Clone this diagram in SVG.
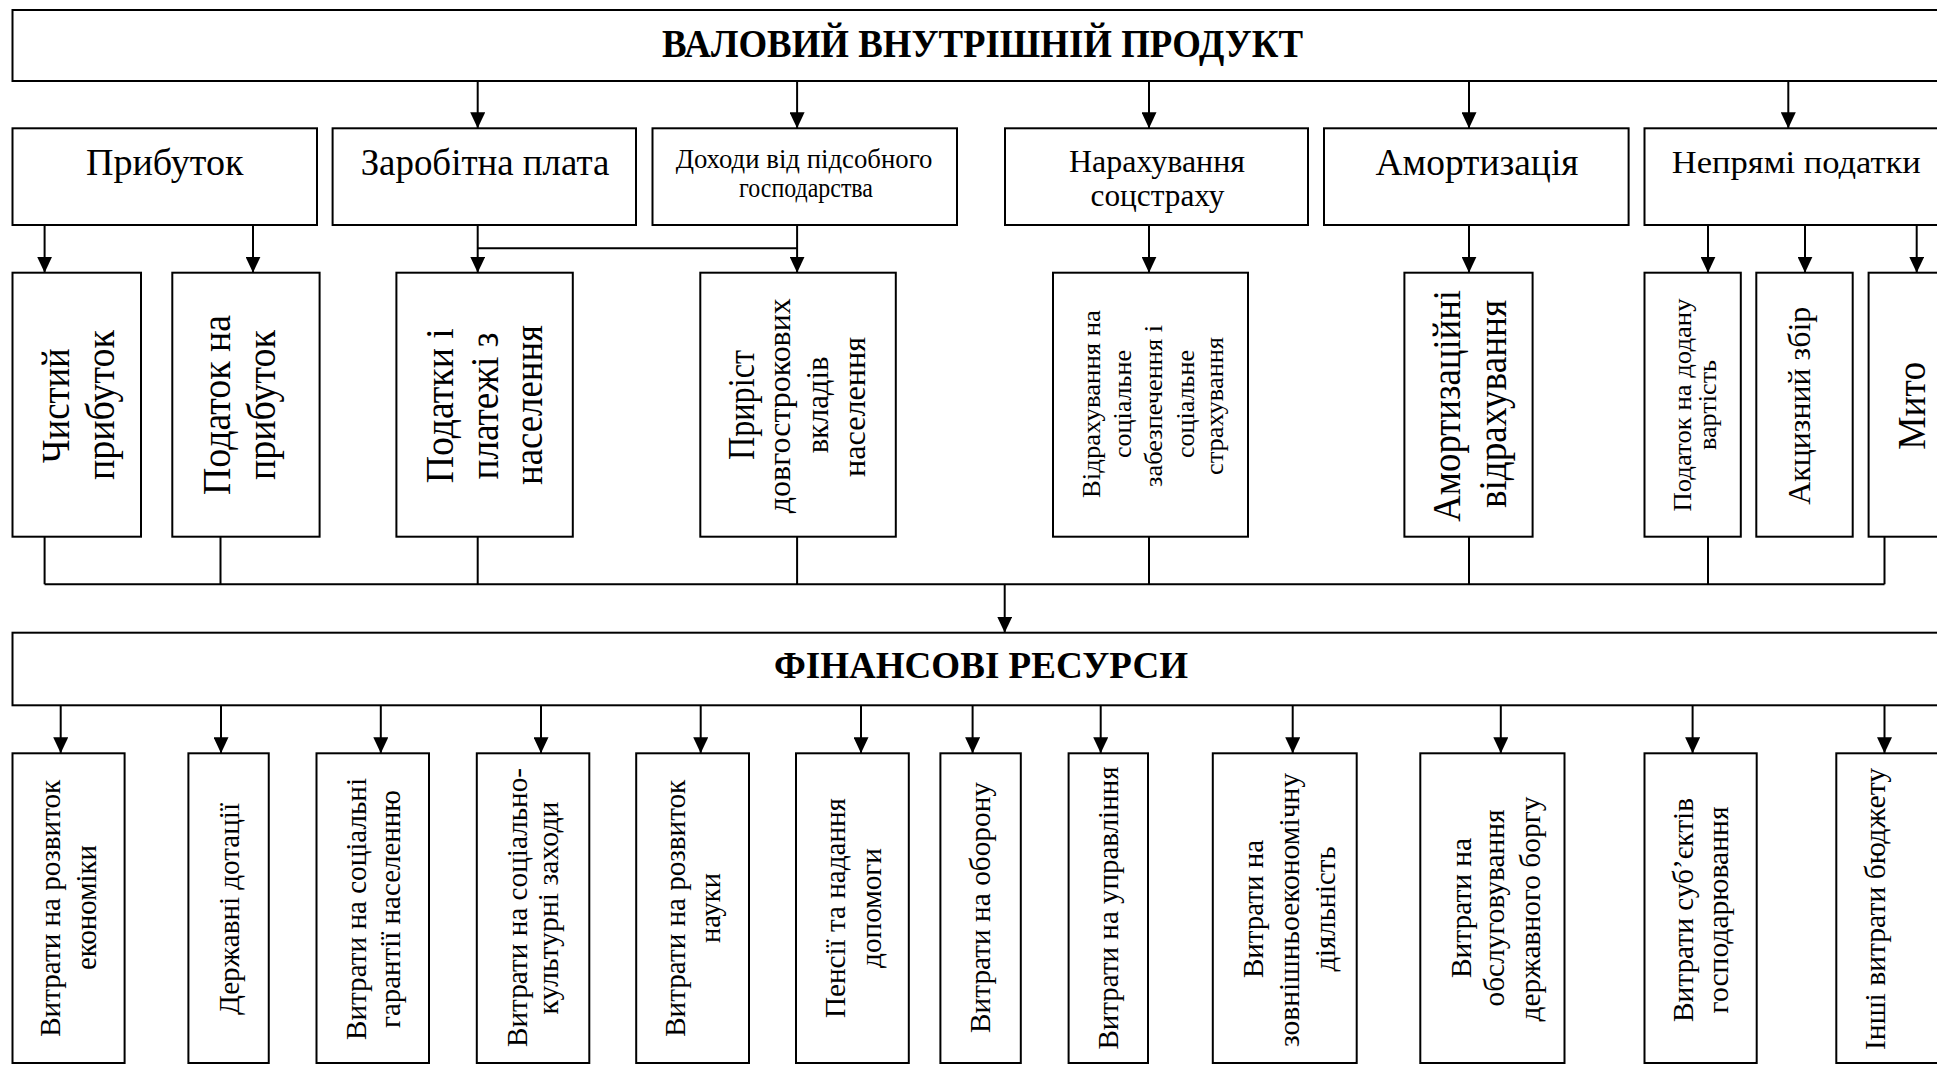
<svg xmlns="http://www.w3.org/2000/svg" width="1937" height="1065" viewBox="0 0 1937 1065" font-family="'Liberation Serif', 'DejaVu Serif', serif">
<style>
.box{fill:#fff;stroke:#000;stroke-width:2}
.ln{stroke:#000;stroke-width:2;fill:none}
.ar{stroke:#000;stroke-width:2;fill:none;marker-end:url(#ah)}
text{font-family:'Liberation Serif','DejaVu Serif',serif;fill:#000;text-anchor:middle}
.h{font-weight:bold}
.f39{font-size:39px}
.f37{font-size:37px}
.f32{font-size:32px}
.f30{font-size:30px}
.f27{font-size:27px}
.f26{font-size:26px}
</style>
<defs>
<marker id="ah" viewBox="0 0 16 15" refX="16" refY="7.5" markerWidth="16" markerHeight="15" orient="auto" markerUnits="userSpaceOnUse">
<path d="M0,0 L16,7.5 L0,15 z" fill="#000"/>
</marker>
</defs>
<rect width="1937" height="1065" fill="#fff"/>

<g id="connectors">
<line class="ar" x1="477.7" y1="81" x2="477.7" y2="128.3"/>
<line class="ar" x1="797.1" y1="81" x2="797.1" y2="128.3"/>
<line class="ar" x1="1149" y1="81" x2="1149" y2="128.3"/>
<line class="ar" x1="1469" y1="81" x2="1469" y2="128.3"/>
<line class="ar" x1="1788.3" y1="81" x2="1788.3" y2="128.3"/>

<line class="ar" x1="44.6" y1="225" x2="44.6" y2="272.7"/>
<line class="ar" x1="253" y1="225" x2="253" y2="272.7"/>
<line class="ar" x1="477.7" y1="225" x2="477.7" y2="272.7"/>
<line class="ln" x1="477.7" y1="248.3" x2="797.1" y2="248.3"/>
<line class="ar" x1="797.1" y1="225" x2="797.1" y2="272.7"/>
<line class="ar" x1="1149" y1="225" x2="1149" y2="272.7"/>
<line class="ar" x1="1469" y1="225" x2="1469" y2="272.7"/>
<line class="ar" x1="1708" y1="225" x2="1708" y2="272.7"/>
<line class="ar" x1="1805" y1="225" x2="1805" y2="272.7"/>
<line class="ar" x1="1916.7" y1="225" x2="1916.7" y2="272.7"/>

<path class="ln" d="M44.6,536.7 V584.3 M220.5,536.7 V584.3 M477.7,536.7 V584.3 M797.1,536.7 V584.3 M1149,536.7 V584.3 M1469,536.7 V584.3 M1708,536.7 V584.3 M1884.5,536.7 V584.3 M44.6,584.3 H1884.5"/>
<line class="ar" x1="1004.7" y1="584.3" x2="1004.7" y2="632.7"/>

<line class="ar" x1="60.7" y1="705.3" x2="60.7" y2="753.3"/>
<line class="ar" x1="221" y1="705.3" x2="221" y2="753.3"/>
<line class="ar" x1="380.8" y1="705.3" x2="380.8" y2="753.3"/>
<line class="ar" x1="541" y1="705.3" x2="541" y2="753.3"/>
<line class="ar" x1="700.7" y1="705.3" x2="700.7" y2="753.3"/>
<line class="ar" x1="861" y1="705.3" x2="861" y2="753.3"/>
<line class="ar" x1="972.6" y1="705.3" x2="972.6" y2="753.3"/>
<line class="ar" x1="1100.7" y1="705.3" x2="1100.7" y2="753.3"/>
<line class="ar" x1="1292.7" y1="705.3" x2="1292.7" y2="753.3"/>
<line class="ar" x1="1500.8" y1="705.3" x2="1500.8" y2="753.3"/>
<line class="ar" x1="1692.6" y1="705.3" x2="1692.6" y2="753.3"/>
<line class="ar" x1="1884.5" y1="705.3" x2="1884.5" y2="753.3"/>
</g>

<g id="gdp">
<rect class="box" x="12.5" y="10" width="1940" height="71"/>
<text class="h" x="982.6" y="57" font-size="39" textLength="641" lengthAdjust="spacingAndGlyphs">ВАЛОВИЙ ВНУТРІШНІЙ ПРОДУКТ</text>
</g>

<g id="profit">
<rect class="box" x="12.5" y="128.3" width="304.5" height="96.7"/>
<text class="f37" x="164.7" y="175" textLength="157.6" lengthAdjust="spacingAndGlyphs">Прибуток</text>
</g>
<g id="wages">
<rect class="box" x="332.6" y="128.3" width="303.4" height="96.7"/>
<text class="f37" x="485" y="175" textLength="248.7" lengthAdjust="spacingAndGlyphs">Заробітна плата</text>
</g>
<g id="household">
<rect class="box" x="652.5" y="128.3" width="304.5" height="96.7"/>
<text class="f27" x="804" y="168.3" textLength="256.7" lengthAdjust="spacingAndGlyphs">Доходи від підсобного</text>
<text class="f27" x="806" y="196.7" textLength="134" lengthAdjust="spacingAndGlyphs">господарства</text>
</g>
<g id="social-accrual">
<rect class="box" x="1005" y="128.3" width="303" height="96.7"/>
<text class="f32" x="1157" y="171.7" textLength="176" lengthAdjust="spacingAndGlyphs">Нарахування</text>
<text class="f32" x="1157.5" y="206" textLength="134" lengthAdjust="spacingAndGlyphs">соцстраху</text>
</g>
<g id="amortization">
<rect class="box" x="1324" y="128.3" width="304.6" height="96.7"/>
<text class="f37" x="1477" y="175" textLength="203" lengthAdjust="spacingAndGlyphs">Амортизація</text>
</g>
<g id="indirect-taxes">
<rect class="box" x="1644.5" y="128.3" width="304.5" height="96.7"/>
<text class="f32" x="1796.3" y="172.7" textLength="249" lengthAdjust="spacingAndGlyphs">Непрямі податки</text>
</g>

<g id="net-profit">
<rect class="box" x="12.5" y="272.7" width="128.5" height="264"/>
<text class="f39" transform="translate(69.2,405.8) rotate(-90)" textLength="115" lengthAdjust="spacingAndGlyphs">Чистий</text>
<text class="f39" transform="translate(113.8,405) rotate(-90)" textLength="150" lengthAdjust="spacingAndGlyphs">прибуток</text>
</g>
<g id="profit-tax">
<rect class="box" x="172.3" y="272.7" width="147.3" height="264"/>
<text class="f39" transform="translate(230,405) rotate(-90)" textLength="180" lengthAdjust="spacingAndGlyphs">Податок на</text>
<text class="f39" transform="translate(274.5,405) rotate(-90)" textLength="150" lengthAdjust="spacingAndGlyphs">прибуток</text>
</g>
<g id="population-taxes">
<rect class="box" x="396.4" y="272.7" width="176.4" height="264"/>
<text class="f39" transform="translate(453,405.7) rotate(-90)" textLength="155" lengthAdjust="spacingAndGlyphs">Податки і</text>
<text class="f39" transform="translate(497.8,406) rotate(-90)" textLength="147" lengthAdjust="spacingAndGlyphs">платежі з</text>
<text class="f39" transform="translate(542.4,405) rotate(-90)" textLength="160" lengthAdjust="spacingAndGlyphs">населення</text>
</g>
<g id="deposits">
<rect class="box" x="700.3" y="272.7" width="195.5" height="264"/>
<text class="f37" transform="translate(753.8,405) rotate(-90)" textLength="110" lengthAdjust="spacingAndGlyphs">Приріст</text>
<text class="f32" transform="translate(789.6,405.7) rotate(-90)" textLength="215" lengthAdjust="spacingAndGlyphs">довгострокових</text>
<text class="f32" transform="translate(827.5,405) rotate(-90)" textLength="96.7" lengthAdjust="spacingAndGlyphs">вкладів</text>
<text class="f32" transform="translate(865.4,407) rotate(-90)" textLength="140" lengthAdjust="spacingAndGlyphs">населення</text>
</g>
<g id="social-deductions">
<rect class="box" x="1053" y="272.7" width="195" height="264"/>
<text class="f26" transform="translate(1099.8,404) rotate(-90)" textLength="188" lengthAdjust="spacingAndGlyphs">Відрахування на</text>
<text class="f26" transform="translate(1131,404) rotate(-90)" textLength="108" lengthAdjust="spacingAndGlyphs">соціальне</text>
<text class="f26" transform="translate(1162.3,406) rotate(-90)" textLength="162" lengthAdjust="spacingAndGlyphs">забезпечення і</text>
<text class="f26" transform="translate(1193.6,404) rotate(-90)" textLength="108" lengthAdjust="spacingAndGlyphs">соціальне</text>
<text class="f26" transform="translate(1222.6,406) rotate(-90)" textLength="138" lengthAdjust="spacingAndGlyphs">страхування</text>
</g>
<g id="depreciation">
<rect class="box" x="1404.4" y="272.7" width="128.2" height="264"/>
<text class="f39" transform="translate(1460,405.8) rotate(-90)" textLength="231.7" lengthAdjust="spacingAndGlyphs">Амортизаційні</text>
<text class="f39" transform="translate(1506.2,404) rotate(-90)" textLength="208" lengthAdjust="spacingAndGlyphs">відрахування</text>
</g>
<g id="vat">
<rect class="box" x="1644.5" y="272.7" width="96.3" height="264"/>
<text class="f26" transform="translate(1690.6,405) rotate(-90)" textLength="213" lengthAdjust="spacingAndGlyphs">Податок на додану</text>
<text class="f26" transform="translate(1715.7,405) rotate(-90)" textLength="90" lengthAdjust="spacingAndGlyphs">вартість</text>
</g>
<g id="excise">
<rect class="box" x="1756.3" y="272.7" width="96.4" height="264"/>
<text class="f32" transform="translate(1810,405.8) rotate(-90)" textLength="198" lengthAdjust="spacingAndGlyphs">Акцизний збір</text>
</g>
<g id="duty">
<rect class="box" x="1868.6" y="272.7" width="96.4" height="264"/>
<text class="f39" transform="translate(1925,405.8) rotate(-90)" textLength="88" lengthAdjust="spacingAndGlyphs">Мито</text>
</g>

<g id="financial-resources">
<rect class="box" x="12.5" y="632.7" width="1940" height="72.6"/>
<text class="h" x="981" y="678.3" font-size="37" textLength="414" lengthAdjust="spacingAndGlyphs">ФІНАНСОВІ РЕСУРСИ</text>
</g>

<g id="economy">
<rect class="box" x="12.5" y="753.3" width="112.1" height="309.7"/>
<text class="f30" transform="translate(60.3,908.3) rotate(-90)" textLength="257" lengthAdjust="spacingAndGlyphs">Витрати на розвиток</text>
<text class="f30" transform="translate(96,907.5) rotate(-90)" textLength="125" lengthAdjust="spacingAndGlyphs">економіки</text>
</g>
<g id="subsidies">
<rect class="box" x="188.4" y="753.3" width="80.35" height="309.7"/>
<text class="f30" transform="translate(238.8,909) rotate(-90)" textLength="212" lengthAdjust="spacingAndGlyphs">Державні  дотації</text>
</g>
<g id="social-guarantees">
<rect class="box" x="316.5" y="753.3" width="112.5" height="309.7"/>
<text class="f30" transform="translate(366,909) rotate(-90)" textLength="262" lengthAdjust="spacingAndGlyphs">Витрати на соціальні</text>
<text class="f30" transform="translate(399.5,909) rotate(-90)" textLength="238" lengthAdjust="spacingAndGlyphs">гарантії населенню</text>
</g>
<g id="sociocultural">
<rect class="box" x="476.8" y="753.3" width="112.5" height="309.7"/>
<text class="f30" transform="translate(526.8,907.5) rotate(-90)" textLength="279" lengthAdjust="spacingAndGlyphs">Витрати на соціально-</text>
<text class="f30" transform="translate(558,908) rotate(-90)" textLength="213" lengthAdjust="spacingAndGlyphs">культурні заходи</text>
</g>
<g id="science">
<rect class="box" x="636.2" y="753.3" width="112.8" height="309.7"/>
<text class="f30" transform="translate(684.6,908.3) rotate(-90)" textLength="257" lengthAdjust="spacingAndGlyphs">Витрати на розвиток</text>
<text class="f30" transform="translate(720.4,908) rotate(-90)" textLength="70" lengthAdjust="spacingAndGlyphs">науки</text>
</g>
<g id="pensions">
<rect class="box" x="796" y="753.3" width="112.8" height="309.7"/>
<text class="f30" transform="translate(845.4,908) rotate(-90)" textLength="220" lengthAdjust="spacingAndGlyphs">Пенсії та надання</text>
<text class="f30" transform="translate(881,908) rotate(-90)" textLength="120" lengthAdjust="spacingAndGlyphs">допомоги</text>
</g>
<g id="defense">
<rect class="box" x="940.4" y="753.3" width="80.4" height="309.7"/>
<text class="f30" transform="translate(990.4,907.5) rotate(-90)" textLength="251" lengthAdjust="spacingAndGlyphs">Витрати на оборону</text>
</g>
<g id="administration">
<rect class="box" x="1068.6" y="753.3" width="79.4" height="309.7"/>
<text class="f30" transform="translate(1117.7,908) rotate(-90)" textLength="283" lengthAdjust="spacingAndGlyphs">Витрати на управління</text>
</g>
<g id="foreign-economic">
<rect class="box" x="1212.8" y="753.3" width="143.9" height="309.7"/>
<text class="f30" transform="translate(1262.8,909) rotate(-90)" textLength="138" lengthAdjust="spacingAndGlyphs">Витрати на</text>
<text class="f30" transform="translate(1298.5,910) rotate(-90)" textLength="274" lengthAdjust="spacingAndGlyphs">зовнішньоекономічну</text>
<text class="f30" transform="translate(1335,909) rotate(-90)" textLength="125" lengthAdjust="spacingAndGlyphs">діяльність</text>
</g>
<g id="debt-service">
<rect class="box" x="1420.3" y="753.3" width="144.2" height="309.7"/>
<text class="f30" transform="translate(1470.6,908) rotate(-90)" textLength="140" lengthAdjust="spacingAndGlyphs">Витрати на</text>
<text class="f30" transform="translate(1504,908) rotate(-90)" textLength="197" lengthAdjust="spacingAndGlyphs">обслуговування</text>
<text class="f30" transform="translate(1539.7,909) rotate(-90)" textLength="225" lengthAdjust="spacingAndGlyphs">державного боргу</text>
</g>
<g id="business-entities">
<rect class="box" x="1644.5" y="753.3" width="112.2" height="309.7"/>
<text class="f30" transform="translate(1692.6,910) rotate(-90)" textLength="224" lengthAdjust="spacingAndGlyphs">Витрати суб’єктів</text>
<text class="f30" transform="translate(1728.3,910) rotate(-90)" textLength="207" lengthAdjust="spacingAndGlyphs">господарювання</text>
</g>
<g id="other-budget">
<rect class="box" x="1836.3" y="753.3" width="120" height="309.7"/>
<text class="f30" transform="translate(1885.4,909) rotate(-90)" textLength="282" lengthAdjust="spacingAndGlyphs">Інші витрати бюджету</text>
</g>
</svg>
